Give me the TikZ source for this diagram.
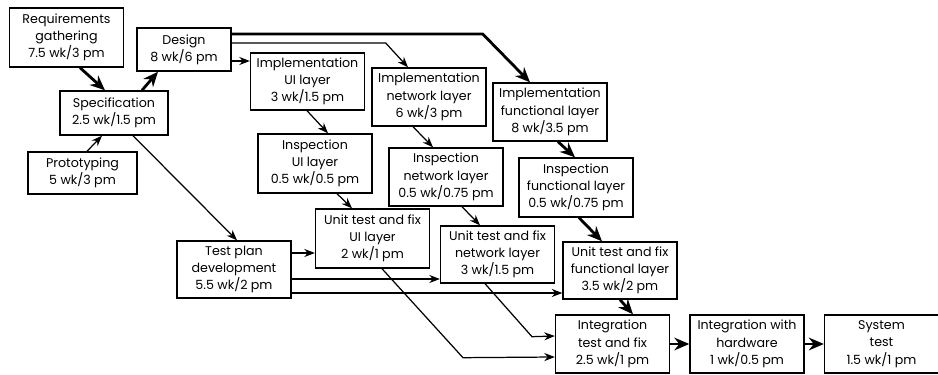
\documentclass[tikz,border=0pt]{standalone}
\usepackage{fontspec}
\setmainfont{Poppins}
\usetikzlibrary{positioning,calc,arrows.meta}

\begin{document}
\begin{tikzpicture}[
    x=0.02cm, y=-0.02cm,
    font=\fontsize{7.2}{9.8}\selectfont,
    >={Stealth[length=6pt,width=4.6pt]},
    box/.style={draw, line width=0.8pt, rectangle, align=center, inner sep=1pt,
                minimum width=2.28cm, minimum height=1.16cm},
    link/.style={->, line width=0.7pt},
    heavy/.style={-{Stealth[length=8.5pt,width=7.2pt]}, line width=1.6pt},
  ]
    \useasboundingbox (0,0) rectangle (938,375);

    % early phases
    \node[box, minimum height=1.18cm] (req) at (66.5,37.5) {Requirements\\gathering\\7.5 wk/3 pm};
    \node[box, minimum width=1.88cm, minimum height=0.86cm] (design) at (184,49.5) {Design\\8 wk/6 pm};
    \node[box, minimum width=2.16cm, minimum height=0.88cm] (spec) at (114,113) {Specification\\2.5 wk/1.5 pm};
    \node[box, minimum width=2.18cm, minimum height=0.84cm] (proto) at (82.5,173) {Prototyping\\5 wk/3 pm};

    % implementation
    \node[box, minimum height=1.14cm] (implUI) at (307.5,81.5) {Implementation\\UI layer\\3 wk/1.5 pm};
    \node[box] (implNet) at (429,97) {Implementation\\network layer\\6 wk/3 pm};
    \node[box] (implFun) at (550,112) {Implementation\\functional layer\\8 wk/3.5 pm};

    % inspection
    \node[box, minimum height=1.18cm] (inspUI) at (315,163.5) {Inspection\\UI layer\\0.5 wk/0.5 pm};
    \node[box] (inspNet) at (446,177) {Inspection\\network layer\\0.5 wk/0.75 pm};
    \node[box, minimum height=1.18cm] (inspFun) at (576,187.5) {Inspection\\functional layer\\0.5 wk/0.75 pm};

    % unit tests
    \node[box, minimum height=1.18cm] (unitUI) at (372.5,238.5) {Unit test and fix\\UI layer\\2 wk/1 pm};
    \node[box, minimum height=1.14cm] (testplan) at (234,269.5) {Test plan\\development\\5.5 wk/2 pm};
    \node[box, minimum height=1.14cm] (unitNet) at (497.5,254.5) {Unit test and fix\\network layer\\3 wk/1.5 pm};
    \node[box, minimum height=1.14cm] (unitFun) at (620,270.5) {Unit test and fix\\functional layer\\3.5 wk/2 pm};

    % integration
    \node[box] (integ) at (612.5,344) {Integration\\test and fix\\2.5 wk/1 pm};
    \node[box] (inthw) at (747,344) {Integration with\\hardware\\1 wk/0.5 pm};
    \node[box] (systest) at (881.5,344) {System\\test\\1.5 wk/1 pm};

    % start points of the parallel lines
    \coordinate (d1) at ($(design.east)+(0,-15.5)$);
    \coordinate (d2) at ($(design.east)+(0,-6.5)$);
    \coordinate (d3) at ($(design.east)+(0,11.5)$);
    \coordinate (t1) at ($(testplan.east)+(0,-16.5)$);
    \coordinate (t2) at ($(testplan.east)+(0,9.5)$);
    \coordinate (t3) at ($(testplan.east)+(0,23.5)$);

    \draw[heavy] ($(req.south)+(13.5,0)$) -- ($(spec.north)+(-9,0)$);
    \draw[heavy] ($(spec.north)+(28,0)$) -- ($(design.south)+(-26,0)$);
    \draw[link] ($(proto.north)+(4.5,0)$) -- ($(spec.south)+(-12,0)$);
    \draw[link] ($(spec.south)+(19,0)$) -- ($(testplan.north)+(3,0)$);

    \draw[heavy] (d1) -- ++(251,0) -- ($(implFun.north)+(-20,0)$);
    \draw[link] (d2) -- ++(154,0) -- ($(implNet.north)+(-21,0)$);
    \draw[link] (d3) -- (d3 -| implUI.west);

    \draw[link] ($(implUI.south)+(-0.5,0)$) -- ($(inspUI.north)+(13,0)$);
    \draw[link] ($(implNet.south)+(-16,0)$) -- ($(inspNet.north)+(-13,0)$);
    \draw[heavy] ($(implFun.south)+(8,0)$) -- ($(inspFun.north)+(-1,0)$);

    \draw[link] ($(inspUI.south)+(22,0)$) -- ($(unitUI.north)+(-20.5,0)$);
    \draw[link] ($(inspNet.south)+(16,0)$) -- ($(unitNet.north)+(-17.5,0)$);
    \draw[heavy] ($(inspFun.south)+(3,0)$) -- ($(unitFun.north)+(-18,0)$);

    \draw[link] (t1) -- (t1 -| unitUI.west);
    \draw[link] (t2) -- (t2 -| unitNet.west);
    \draw[link] (t3) -- (t3 -| unitFun.west);

    \draw[link] ($(unitUI.south)+(9.5,0)$) -- ++(81,89) -- ($(integ.west)+(0,13)$);
    \draw[link] ($(unitNet.south)+(-12.5,0)$) -- ++(47,53) -- ($(integ.west)+(0,-8)$);
    \draw[heavy] (unitFun.south) -- ($(integ.north)+(20.5,0)$);

    \draw[heavy] (integ) -- (inthw);
    \draw[heavy] (inthw) -- (systest);
  \end{tikzpicture}
\end{document}
